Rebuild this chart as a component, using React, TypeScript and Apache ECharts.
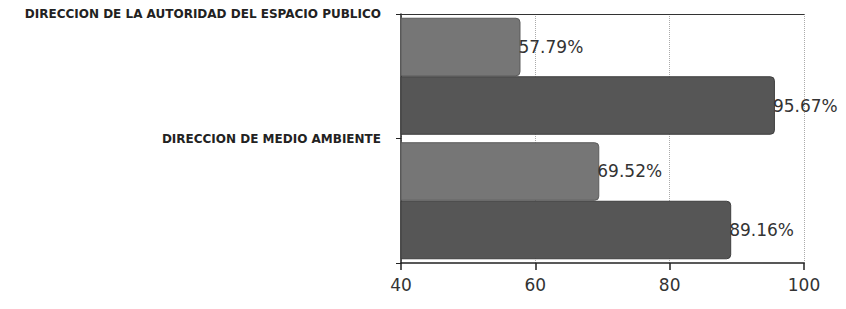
import React, { useEffect, useRef } from "react";
import * as echarts from "echarts";

const categories = [
  "DIRECCION DE LA AUTORIDAD DEL ESPACIO PUBLICO",
  "DIRECCION DE MEDIO AMBIENTE",
];
const seriesA = [57.79, 69.52];
const seriesB = [95.67, 89.16];
const xTicks = { min: 40, max: 100, interval: 20 };

export default function App() {
  const ref = useRef<HTMLDivElement>(null);
  useEffect(() => {
    if (!ref.current) return;
    const chart = echarts.init(ref.current, undefined, { renderer: "svg" });
    const labelCfg = {
      show: true,
      position: "right",
      offset: [-7, 0],
      fontSize: 17,
      color: "#333",
      fontFamily: "DejaVu Sans",
      formatter: (p: any) => p.value.toFixed(2) + "%",
    };
    chart.setOption({
      animation: false,
      backgroundColor: "#fff",
      grid: { left: 393, right: 42, top: 3, bottom: 38 },
      xAxis: [
        {
          type: "value",
          min: xTicks.min,
          max: xTicks.max,
          interval: xTicks.interval,
          axisLine: { show: true, lineStyle: { color: "#222", width: 1.5 } },
          axisTick: { show: true, length: 7, lineStyle: { color: "#222", width: 1.5 } },
          axisLabel: { fontSize: 17, color: "#333", fontFamily: "DejaVu Sans", margin: 13 },
          splitLine: { show: true, lineStyle: { color: "#aaa", type: "dotted" } },
        },
        {
          type: "value",
          position: "top",
          min: xTicks.min,
          max: xTicks.max,
          interval: xTicks.interval,
          axisLine: { show: true, lineStyle: { color: "#333", width: 1.2 } },
          axisTick: { show: false },
          axisLabel: { show: false },
          splitLine: { show: false },
        },
      ],
      yAxis: [
        {
          type: "category",
          data: categories,
          inverse: true,
          position: "left",
          axisLine: { show: true, lineStyle: { color: "#222", width: 1.5 } },
          axisTick: { show: false },
          axisLabel: { show: false },
        },
        {
          type: "category",
          data: [...categories, ""],
          inverse: true,
          boundaryGap: false,
          position: "left",
          axisLine: { show: false },
          axisTick: { show: true, length: 5, lineStyle: { color: "#222" } },
          axisLabel: {
            fontSize: 12,
            fontWeight: "bold",
            color: "#222",
            fontFamily: "DejaVu Sans",
            margin: 20,
          },
          splitLine: { show: false },
        },
      ],
      series: [
        {
          type: "bar",
          yAxisIndex: 0,
          xAxisIndex: 0,
          data: seriesA,
          barCategoryGap: "6%",
          barGap: "0%",
          itemStyle: {
            color: "#767676",
            borderColor: "#5a5a5a",
            borderWidth: 1,
            borderRadius: [0, 4, 4, 0],
          },
          label: labelCfg,
        },
        {
          type: "bar",
          yAxisIndex: 0,
          xAxisIndex: 0,
          data: seriesB,
          barCategoryGap: "6%",
          barGap: "0%",
          itemStyle: {
            color: "#565656",
            borderColor: "#3e3e3e",
            borderWidth: 1,
            borderRadius: [0, 4, 4, 0],
          },
          label: labelCfg,
        },
      ],
    });
    return () => chart.dispose();
  }, []);
  return <div ref={ref} style={{ width: 838, height: 293 }} />;
}
